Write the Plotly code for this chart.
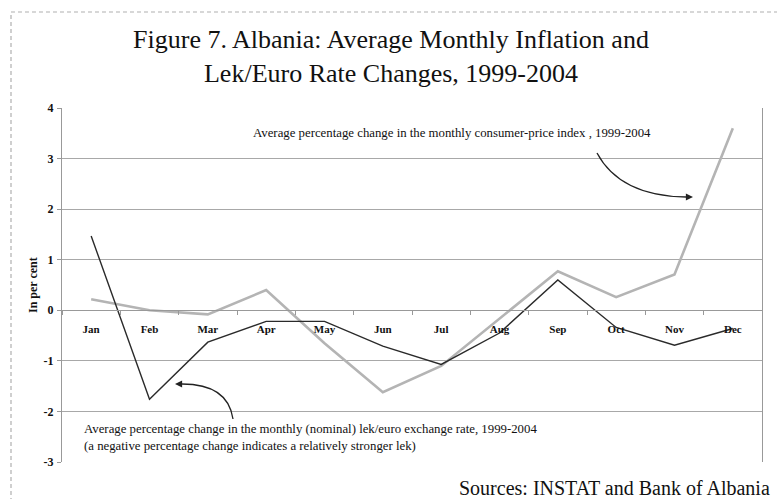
import plotly.graph_objects as go

months = ["Jan", "Feb", "Mar", "Apr", "May", "Jun", "Jul", "Aug", "Sep", "Oct", "Nov", "Dec"]
cpi_change = [0.22, 0.0, -0.08, 0.4, -0.65, -1.62, -1.1, -0.17, 0.77, 0.26, 0.71, 3.6]
lek_euro_change = [1.47, -1.76, -0.63, -0.22, -0.22, -0.71, -1.07, -0.45, 0.6, -0.34, -0.69, -0.36]
y_ticks = [-3, -2, -1, 0, 1, 2, 3, 4]
y_tick_labels = ["-3", "-2", "-1", "0", "1", "2", "3", "4"]

W, H = 777, 499
L, R, T, B = 62, 15, 108, 37
PW, PH = W - L - R, H - T - B

def px(x):
    return (x - L) / PW

def py(y):
    return (H - B - y) / PH

FONT = "Liberation Serif"

fig = go.Figure()
fig.add_trace(go.Scatter(x=months, y=cpi_change, mode="lines",
                         line=dict(color="#b4b4b4", width=2.6), name="CPI"))
fig.add_trace(go.Scatter(x=months, y=lek_euro_change, mode="lines",
                         line=dict(color="#2a2a2a", width=1.4), name="Lek/Euro"))

fig.update_layout(
    width=W, height=H,
    margin=dict(l=L, r=R, t=T, b=B, autoexpand=False),
    paper_bgcolor="white", plot_bgcolor="white",
    showlegend=False,
    font=dict(family=FONT, color="#111"),
    title=dict(text="Figure 7. Albania: Average Monthly Inflation and<br>Lek/Euro Rate Changes, 1999-2004",
               x=391 / W, xanchor="center", xref="container",
               y=1 - 48 / H, yanchor="top", yref="container",
               font=dict(family=FONT, size=26, color="#111")),
    xaxis=dict(type="category", range=[-0.5, 11.5], anchor="free", position=3 / 7,
               automargin=False,
               showgrid=False, showline=True, linecolor="#999", linewidth=1,
               ticks="outside", tickson="boundaries", ticklen=4, tickcolor="#999",
               tickfont=dict(family=FONT, size=11, color="#111", weight="bold"),
               ticklabelstandoff=9, zeroline=False),
    yaxis=dict(range=[-3, 4], tickvals=y_ticks, ticktext=y_tick_labels,
               showgrid=True, gridcolor="#a8a8a8",
               gridwidth=1.2, zeroline=False, showline=True, linecolor="#999",
               automargin=False,
               mirror=True, ticks="outside", ticklen=4, tickcolor="#999",
               ticklabelstandoff=1,
               tickfont=dict(family=FONT, size=12, color="#111", weight="bold")),
)

# y-axis title
fig.add_annotation(xref="paper", yref="paper", x=px(33), y=0.5, textangle=-90,
                   xanchor="center", yanchor="middle", showarrow=False,
                   text="In per cent",
                   font=dict(family=FONT, size=12, color="#111", weight="bold"))

# outer dashed frame
fig.add_shape(type="rect", xref="paper", yref="paper",
              x0=px(11), x1=px(820), y0=py(540), y1=py(12),
              line=dict(color="#b0b0b0", width=1.2, dash="4px,3px"))

# curved arrow 1 (CPI)
fig.add_shape(type="path", xref="paper", yref="paper",
              path=f"M {px(597)} {py(153)} Q {px(620)} {py(196)} {px(686)} {py(197)}",
              line=dict(color="#222", width=1.3))
fig.add_annotation(xref="paper", yref="paper", x=px(693), y=py(197), ax=-8, ay=0,
                   text="", showarrow=True, arrowhead=2, arrowsize=1.1, arrowwidth=1.3,
                   arrowcolor="#222")
# curved arrow 2 (exchange rate)
fig.add_shape(type="path", xref="paper", yref="paper",
              path=f"M {px(233)} {py(419)} Q {px(228)} {py(384)} {px(182)} {py(384)}",
              line=dict(color="#222", width=1.3))
fig.add_annotation(xref="paper", yref="paper", x=px(175), y=py(384), ax=8, ay=0,
                   text="", showarrow=True, arrowhead=2, arrowsize=1.1, arrowwidth=1.3,
                   arrowcolor="#222")

fig.add_annotation(xref="paper", yref="paper", x=px(251), y=py(133),
                   xanchor="left", yanchor="middle", showarrow=False,
                   text="Average percentage change in the monthly consumer-price index , 1999-2004",
                   font=dict(family=FONT, size=12.8, color="#111"))
fig.add_annotation(xref="paper", yref="paper", x=px(82), y=py(437),
                   xanchor="left", yanchor="middle", showarrow=False, align="left",
                   text="Average percentage change in the monthly (nominal) lek/euro exchange rate, 1999-2004"
                        "<br>(a negative percentage change indicates a relatively stronger lek)",
                   font=dict(family=FONT, size=12.8, color="#111"))
fig.add_annotation(xref="paper", yref="paper", x=px(457), y=py(488),
                   xanchor="left", yanchor="middle", showarrow=False,
                   text="Sources: INSTAT and Bank of Albania",
                   font=dict(family=FONT, size=20, color="#111"))

fig.write_html("out.html", config={"displayModeBar": False},
               post_script="document.body.style.margin='0px';")
